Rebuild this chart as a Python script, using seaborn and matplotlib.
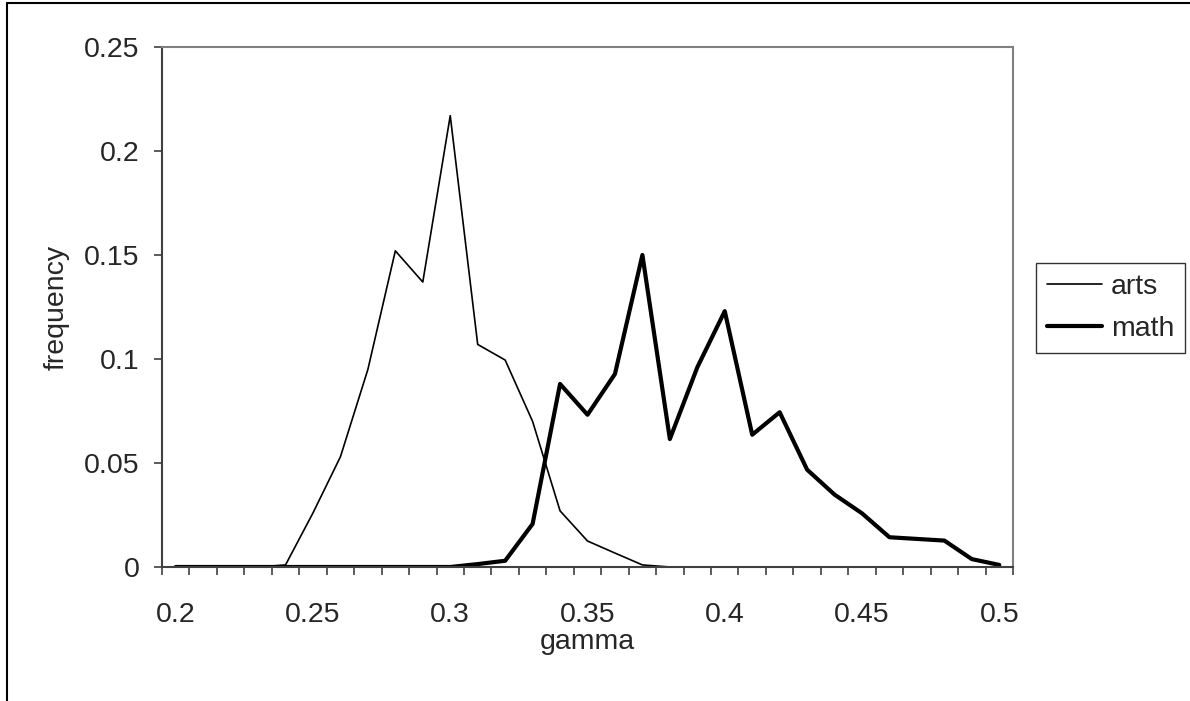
import pandas as pd
import matplotlib
matplotlib.use("Agg")
import matplotlib.pyplot as plt
from matplotlib.lines import Line2D
from matplotlib.ticker import FixedLocator
import seaborn as sns

gamma = [0.20, 0.21, 0.22, 0.23, 0.24, 0.25, 0.26, 0.27, 0.28, 0.29, 0.30,
         0.31, 0.32, 0.33, 0.34, 0.35, 0.36, 0.37, 0.38, 0.39, 0.40,
         0.41, 0.42, 0.43, 0.44, 0.45, 0.46, 0.47, 0.48, 0.49, 0.50]
arts = [0, 0, 0, 0, 0.001, 0.026, 0.053, 0.095, 0.152, 0.137, 0.217,
        0.107, 0.0995, 0.070, 0.027, 0.0125, 0.0067, 0.001, 0, 0, 0,
        0, 0, 0, 0, 0, 0, 0, 0, 0, 0]
math = [0, 0, 0, 0, 0, 0, 0, 0, 0, 0, 0,
        0.0014, 0.003, 0.0207, 0.088, 0.0732, 0.0928, 0.150, 0.0615, 0.096, 0.123,
        0.0636, 0.0744, 0.0468, 0.0348, 0.0258, 0.0143, 0.0135, 0.0127, 0.0038, 0.001]

x_ticks = [0.20, 0.25, 0.30, 0.35, 0.40, 0.45, 0.50]
x_labels = ["0.2", "0.25", "0.3", "0.35", "0.4", "0.45", "0.5"]
y_ticks = [0, 0.05, 0.10, 0.15, 0.20, 0.25]
y_labels = ["0", "0.05", "0.1", "0.15", "0.2", "0.25"]

df = pd.DataFrame({"gamma": gamma, "arts": arts, "math": math})

sns.set_style("white")
plt.rcParams["font.family"] = ["Liberation Sans", "DejaVu Sans"]
plt.rcParams["font.size"] = 20.5

fig = plt.figure(figsize=(11.9, 7.01), dpi=100)
ax = fig.add_axes([162 / 1190, 1 - 567 / 701, 851 / 1190, 520 / 701])

sns.lineplot(data=df, x="gamma", y="arts", color="black", linewidth=1.2,
             label="arts", ax=ax)
sns.lineplot(data=df, x="gamma", y="math", color="black", linewidth=3.0,
             label="math", ax=ax)

ax.set_xlim(0.195, 0.505)
ax.set_ylim(0, 0.25)

# category style axis: labels at centres, tick marks between categories
ax.set_xticks(x_ticks)
ax.set_xticklabels(x_labels)
ax.xaxis.set_minor_locator(FixedLocator([0.195 + 0.01 * k for k in range(32)]))
ax.tick_params(axis="x", which="major", length=0, pad=25)
ax.tick_params(axis="x", which="minor", bottom=True, length=6, width=1.2,
               color="#404040", direction="out")
ax.set_yticks(y_ticks)
ax.set_yticklabels(y_labels)
ax.tick_params(axis="y", which="major", left=True, length=6, width=1.2,
               color="#404040", direction="out", pad=10)

for side in ["left", "bottom"]:
    ax.spines[side].set_color("#404040")
    ax.spines[side].set_linewidth(1.5)
for side in ["top", "right"]:
    ax.spines[side].set_color("#808080")
    ax.spines[side].set_linewidth(1.5)

ax.set_xlabel("gamma")
ax.set_ylabel("frequency")
ax.xaxis.set_label_coords(0.5, -0.12)
ax.yaxis.set_label_coords(-0.108, 0.5)

leg = ax.legend(loc="center left", bbox_to_anchor=(1036 / 1190, 1 - 308 / 701),
                bbox_transform=fig.transFigure, frameon=True, fancybox=False,
                edgecolor="black", handlelength=1.95, handletextpad=0.3,
                labelspacing=0.55, borderpad=0.38, borderaxespad=0)
leg.get_frame().set_linewidth(1.0)

# chart area border (cropped on right and bottom)
fig.add_artist(Line2D([7 / 1190, 1], [1 - 3 / 701, 1 - 3 / 701],
                      transform=fig.transFigure, color="black", linewidth=1.5))
fig.add_artist(Line2D([7 / 1190, 7 / 1190], [0, 1 - 3 / 701],
                      transform=fig.transFigure, color="black", linewidth=1.5))

fig.savefig("out.png", dpi=100)
